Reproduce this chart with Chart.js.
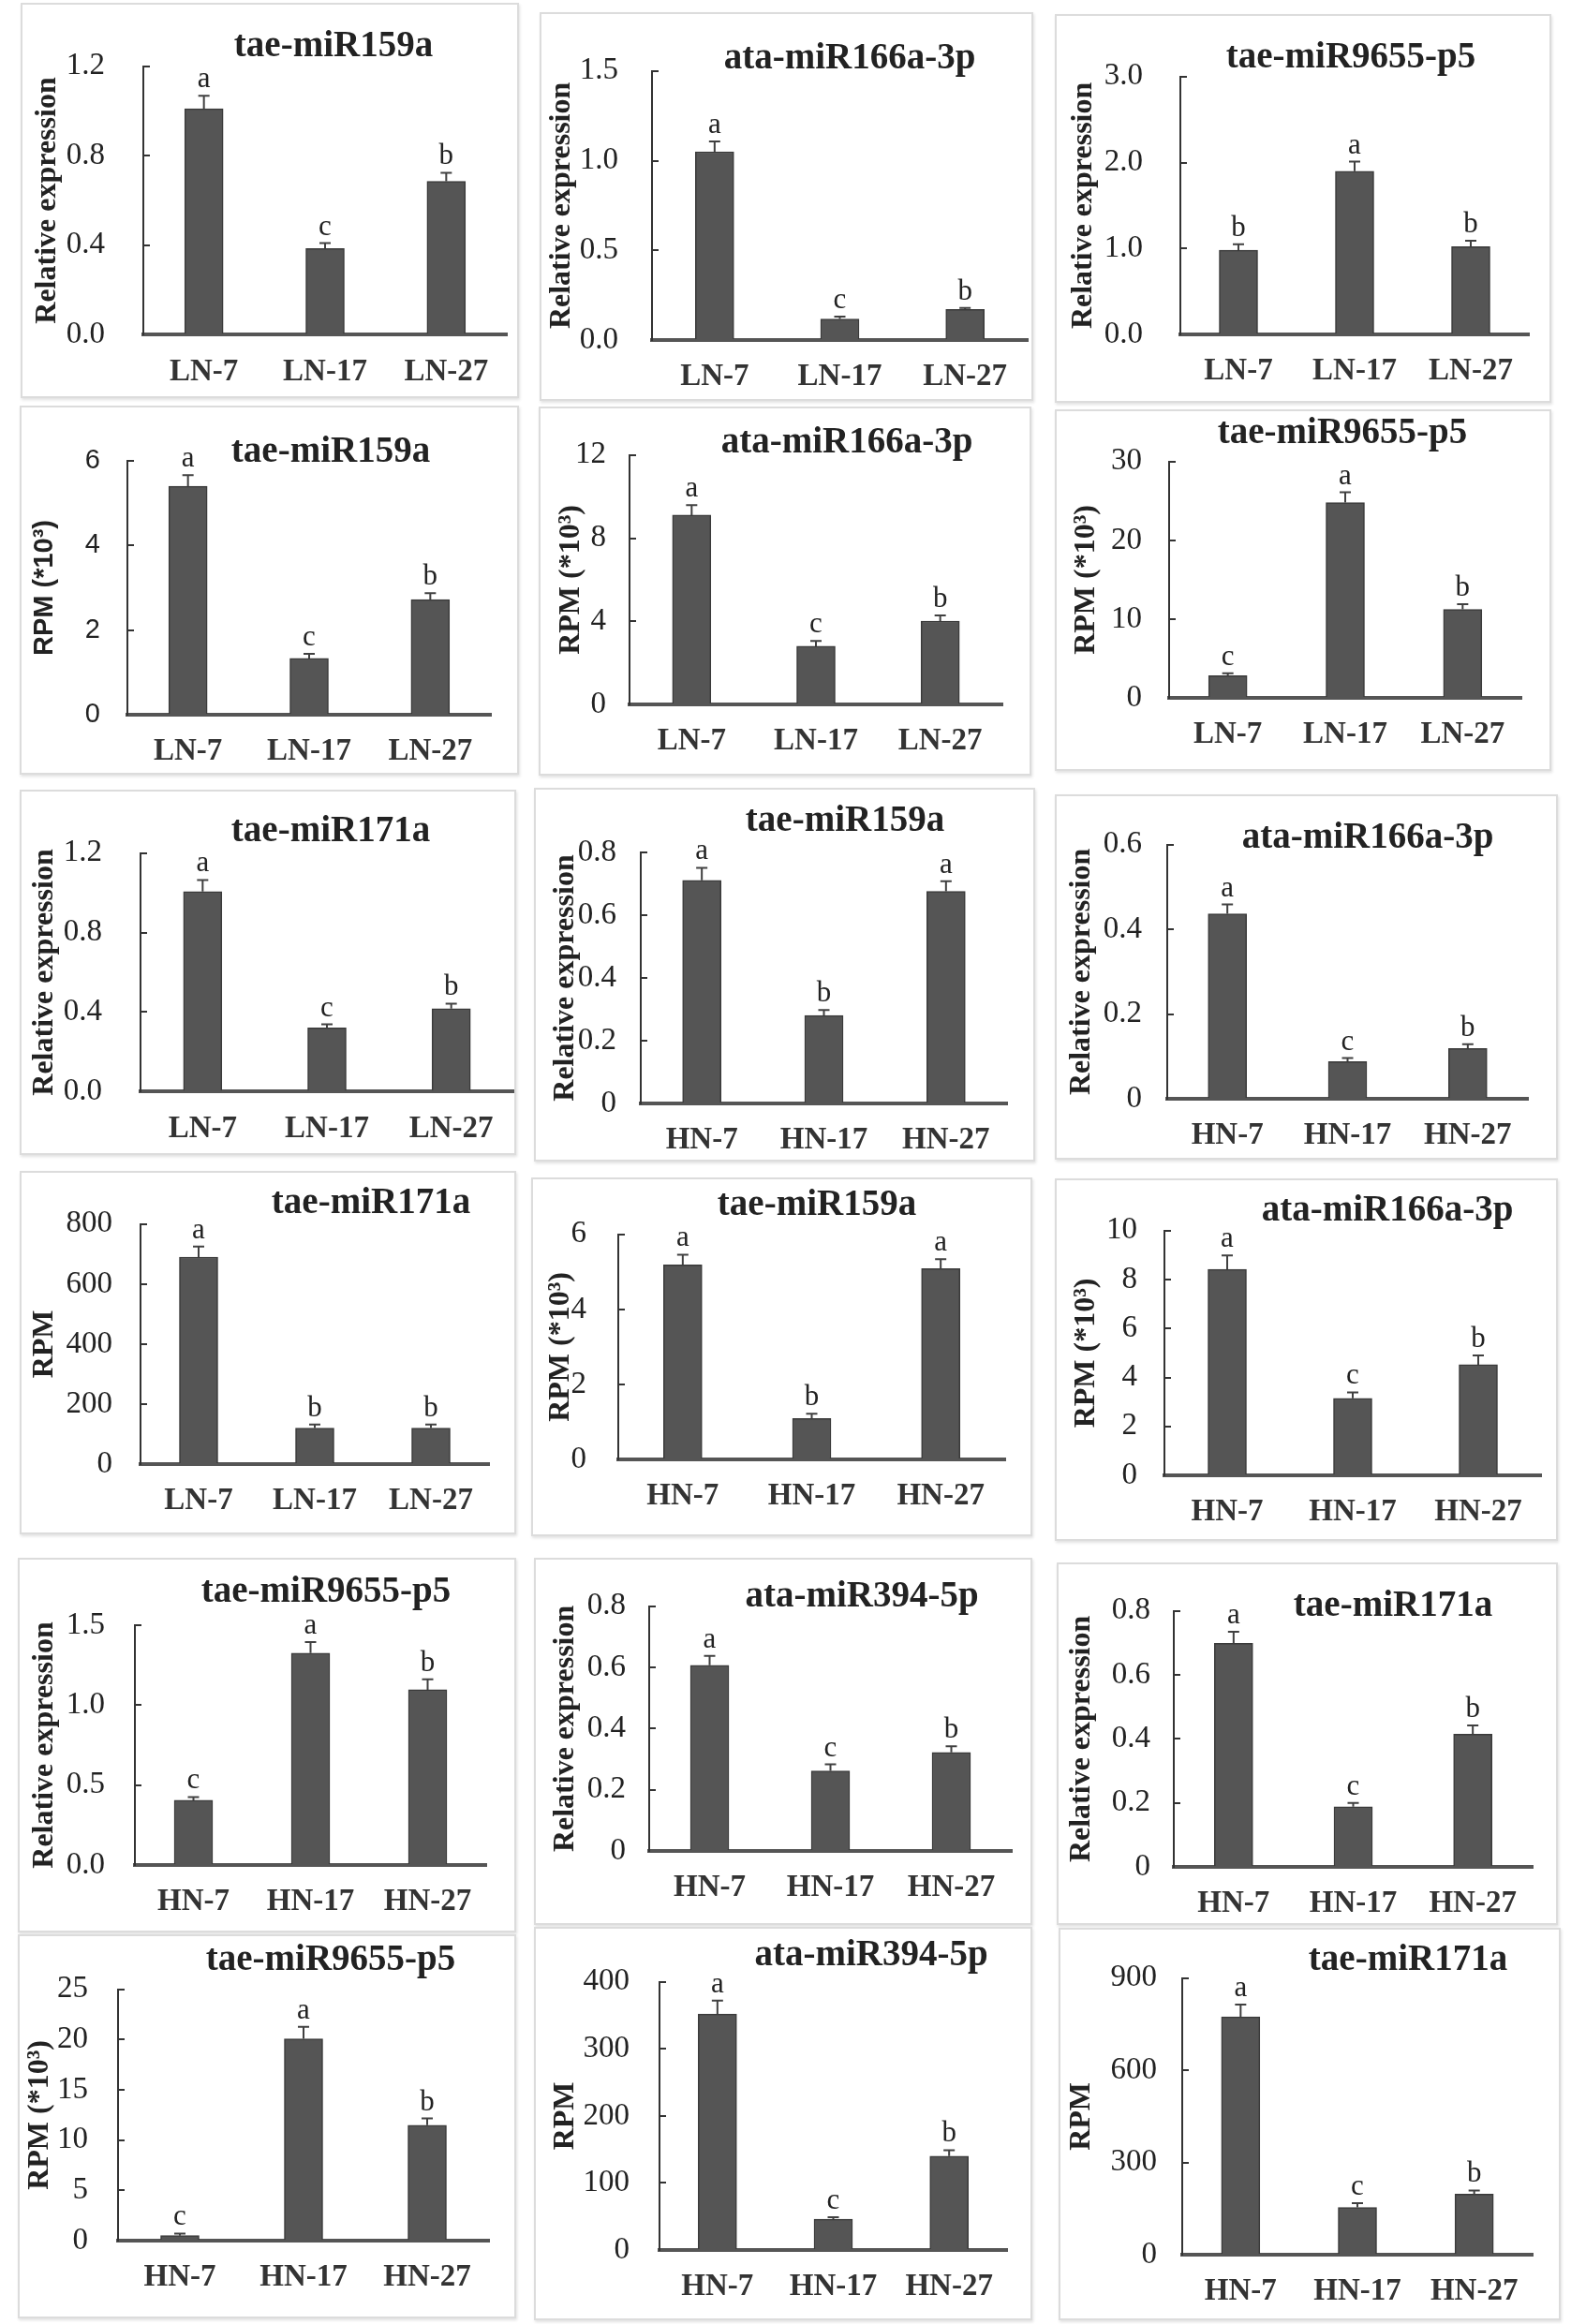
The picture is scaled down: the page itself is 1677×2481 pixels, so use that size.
<!DOCTYPE html>
<html>
<head>
<meta charset="utf-8">
<title>miRNA expression panels</title>
<script src="https://cdn.jsdelivr.net/npm/chart.js@4.4.1/dist/chart.umd.min.js"></script>
<style>
    html, body { margin: 0; padding: 0; background: #fff; }
    body { width: 1677px; height: 2481px; position: relative; overflow: hidden; }
    .panel {
        position: absolute;
        box-sizing: border-box;
        border: 2px solid #dcdcdc;
        box-shadow: 1px 2px 3px rgba(0, 0, 0, 0.12);
        background: #fff;
    }
    canvas { position: absolute; }
</style>
</head>
<body>
<script>
// 組別
const lnGroups = ['LN-7', 'LN-17', 'LN-27'];
const hnGroups = ['HN-7', 'HN-17', 'HN-27'];

// 軸標題
const relLabel = 'Relative expression';
const rpmKLabel = 'RPM (*10³)';
const rpmLabel = 'RPM';

// 1. tae-miR159a (qRT-PCR, LN)
const p1Values = [1.01, 0.385, 0.686];
const p1Errors = [0.058, 0.024, 0.038];
const p1Letters = ['a', 'c', 'b'];
const p1Ticks = [0, 0.4, 0.8, 1.2];
const p1TickLabels = ['0.0', '0.4', '0.8', '1.2'];

// 2. ata-miR166a-3p (qRT-PCR, LN)
const p2Values = [1.05, 0.117, 0.171];
const p2Errors = [0.057, 0.013, 0.008];
const p2Letters = ['a', 'c', 'b'];
const p2Ticks = [0, 0.5, 1.0, 1.5];
const p2TickLabels = ['0.0', '0.5', '1.0', '1.5'];

// 3. tae-miR9655-p5 (qRT-PCR, LN)
const p3Values = [0.98, 1.90, 1.02];
const p3Errors = [0.07, 0.11, 0.07];
const p3Letters = ['b', 'a', 'b'];
const p3Ticks = [0, 1, 2, 3];
const p3TickLabels = ['0.0', '1.0', '2.0', '3.0'];

// 4. tae-miR159a (RPM, LN)
const p4Values = [5.40, 1.33, 2.72];
const p4Errors = [0.26, 0.11, 0.15];
const p4Letters = ['a', 'c', 'b'];
const p4Ticks = [0, 2, 4, 6];
const p4TickLabels = ['0', '2', '4', '6'];

// 5. ata-miR166a-3p (RPM, LN)
const p5Values = [9.11, 2.80, 4.01];
const p5Errors = [0.48, 0.25, 0.27];
const p5Letters = ['a', 'c', 'b'];
const p5Ticks = [0, 4, 8, 12];
const p5TickLabels = ['0', '4', '8', '12'];

// 6. tae-miR9655-p5 (RPM, LN)
const p6Values = [2.82, 24.8, 11.23];
const p6Errors = [0.3, 1.3, 0.66];
const p6Letters = ['c', 'a', 'b'];
const p6Ticks = [0, 10, 20, 30];
const p6TickLabels = ['0', '10', '20', '30'];

// 7. tae-miR171a (qRT-PCR, LN)
const p7Values = [1.007, 0.32, 0.417];
const p7Errors = [0.058, 0.018, 0.025];
const p7Letters = ['a', 'c', 'b'];
const p7Ticks = [0, 0.4, 0.8, 1.2];
const p7TickLabels = ['0.0', '0.4', '0.8', '1.2'];

// 8. tae-miR159a (qRT-PCR, HN)
const p8Values = [0.711, 0.28, 0.676];
const p8Errors = [0.04, 0.018, 0.032];
const p8Letters = ['a', 'b', 'a'];
const p8Ticks = [0, 0.2, 0.4, 0.6, 0.8];
const p8TickLabels = ['0', '0.2', '0.4', '0.6', '0.8'];

// 9. ata-miR166a-3p (qRT-PCR, HN)
const p9Values = [0.437, 0.088, 0.119];
const p9Errors = [0.022, 0.008, 0.01];
const p9Letters = ['a', 'c', 'b'];
const p9Ticks = [0, 0.2, 0.4, 0.6];
const p9TickLabels = ['0', '0.2', '0.4', '0.6'];

// 10. tae-miR171a (RPM, LN)
const p10Values = [690, 120, 120];
const p10Errors = [35, 12, 12];
const p10Letters = ['a', 'b', 'b'];
const p10Ticks = [0, 200, 400, 600, 800];
const p10TickLabels = ['0', '200', '400', '600', '800'];

// 11. tae-miR159a (RPM, HN)
const p11Values = [5.19, 1.09, 5.09];
const p11Errors = [0.27, 0.13, 0.25];
const p11Letters = ['a', 'b', 'a'];
const p11Ticks = [0, 2, 4, 6];
const p11TickLabels = ['0', '2', '4', '6'];

// 12. ata-miR166a-3p (RPM, HN)
const p12Values = [8.42, 3.15, 4.52];
const p12Errors = [0.57, 0.24, 0.38];
const p12Letters = ['a', 'c', 'b'];
const p12Ticks = [0, 2, 4, 6, 8, 10];
const p12TickLabels = ['0', '2', '4', '6', '8', '10'];

// 13. tae-miR9655-p5 (qRT-PCR, HN)
const p13Values = [0.405, 1.325, 1.096];
const p13Errors = [0.02, 0.07, 0.066];
const p13Letters = ['c', 'a', 'b'];
const p13Ticks = [0, 0.5, 1.0, 1.5];
const p13TickLabels = ['0.0', '0.5', '1.0', '1.5'];

// 14. ata-miR394-5p (qRT-PCR, HN)
const p14Values = [0.607, 0.262, 0.322];
const p14Errors = [0.031, 0.021, 0.02];
const p14Letters = ['a', 'c', 'b'];
const p14Ticks = [0, 0.2, 0.4, 0.6, 0.8];
const p14TickLabels = ['0', '0.2', '0.4', '0.6', '0.8'];

// 15. tae-miR171a (qRT-PCR, HN)
const p15Values = [0.699, 0.188, 0.415];
const p15Errors = [0.036, 0.012, 0.027];
const p15Letters = ['a', 'c', 'b'];
const p15Ticks = [0, 0.2, 0.4, 0.6, 0.8];
const p15TickLabels = ['0', '0.2', '0.4', '0.6', '0.8'];

// 16. tae-miR9655-p5 (RPM, HN)
const p16Values = [0.5, 20.08, 11.48];
const p16Errors = [0.2, 1.2, 0.68];
const p16Letters = ['c', 'a', 'b'];
const p16Ticks = [0, 5, 10, 15, 20, 25];
const p16TickLabels = ['0', '5', '10', '15', '20', '25'];

// 17. ata-miR394-5p (RPM, HN)
const p17Values = [352, 46, 140];
const p17Errors = [20, 3, 9];
const p17Letters = ['a', 'c', 'b'];
const p17Ticks = [0, 100, 200, 300, 400];
const p17TickLabels = ['0', '100', '200', '300', '400'];

// 18. tae-miR171a (RPM, HN)
const p18Values = [774, 154, 197];
const p18Errors = [40, 14, 12];
const p18Letters = ['a', 'c', 'b'];
const p18Ticks = [0, 300, 600, 900];
const p18TickLabels = ['0', '300', '600', '900'];

const panels = [
    { title: 'tae-miR159a', yTitle: relLabel, groups: lnGroups, values: p1Values, errors: p1Errors, letters: p1Letters, ticks: p1Ticks, tickLabels: p1TickLabels },
    { title: 'ata-miR166a-3p', yTitle: relLabel, groups: lnGroups, values: p2Values, errors: p2Errors, letters: p2Letters, ticks: p2Ticks, tickLabels: p2TickLabels },
    { title: 'tae-miR9655-p5', yTitle: relLabel, groups: lnGroups, values: p3Values, errors: p3Errors, letters: p3Letters, ticks: p3Ticks, tickLabels: p3TickLabels },
    { title: 'tae-miR159a', yTitle: rpmKLabel, groups: lnGroups, values: p4Values, errors: p4Errors, letters: p4Letters, ticks: p4Ticks, tickLabels: p4TickLabels },
    { title: 'ata-miR166a-3p', yTitle: rpmKLabel, groups: lnGroups, values: p5Values, errors: p5Errors, letters: p5Letters, ticks: p5Ticks, tickLabels: p5TickLabels },
    { title: 'tae-miR9655-p5', yTitle: rpmKLabel, groups: lnGroups, values: p6Values, errors: p6Errors, letters: p6Letters, ticks: p6Ticks, tickLabels: p6TickLabels },
    { title: 'tae-miR171a', yTitle: relLabel, groups: lnGroups, values: p7Values, errors: p7Errors, letters: p7Letters, ticks: p7Ticks, tickLabels: p7TickLabels },
    { title: 'tae-miR159a', yTitle: relLabel, groups: hnGroups, values: p8Values, errors: p8Errors, letters: p8Letters, ticks: p8Ticks, tickLabels: p8TickLabels },
    { title: 'ata-miR166a-3p', yTitle: relLabel, groups: hnGroups, values: p9Values, errors: p9Errors, letters: p9Letters, ticks: p9Ticks, tickLabels: p9TickLabels },
    { title: 'tae-miR171a', yTitle: rpmLabel, groups: lnGroups, values: p10Values, errors: p10Errors, letters: p10Letters, ticks: p10Ticks, tickLabels: p10TickLabels },
    { title: 'tae-miR159a', yTitle: rpmKLabel, groups: hnGroups, values: p11Values, errors: p11Errors, letters: p11Letters, ticks: p11Ticks, tickLabels: p11TickLabels },
    { title: 'ata-miR166a-3p', yTitle: rpmKLabel, groups: hnGroups, values: p12Values, errors: p12Errors, letters: p12Letters, ticks: p12Ticks, tickLabels: p12TickLabels },
    { title: 'tae-miR9655-p5', yTitle: relLabel, groups: hnGroups, values: p13Values, errors: p13Errors, letters: p13Letters, ticks: p13Ticks, tickLabels: p13TickLabels },
    { title: 'ata-miR394-5p', yTitle: relLabel, groups: hnGroups, values: p14Values, errors: p14Errors, letters: p14Letters, ticks: p14Ticks, tickLabels: p14TickLabels },
    { title: 'tae-miR171a', yTitle: relLabel, groups: hnGroups, values: p15Values, errors: p15Errors, letters: p15Letters, ticks: p15Ticks, tickLabels: p15TickLabels },
    { title: 'tae-miR9655-p5', yTitle: rpmKLabel, groups: hnGroups, values: p16Values, errors: p16Errors, letters: p16Letters, ticks: p16Ticks, tickLabels: p16TickLabels },
    { title: 'ata-miR394-5p', yTitle: rpmLabel, groups: hnGroups, values: p17Values, errors: p17Errors, letters: p17Letters, ticks: p17Ticks, tickLabels: p17TickLabels },
    { title: 'tae-miR171a', yTitle: rpmLabel, groups: hnGroups, values: p18Values, errors: p18Errors, letters: p18Letters, ticks: p18Ticks, tickLabels: p18TickLabels }
];

// 版面：外框 [x, y, w, h]、繪圖區 [左, 右, 上, 零線]、標題中心、y 軸標題 x、刻度文字間距
const frames = [
    { box: [22, 3, 532, 422], plot: [153, 541, 67, 365], title: [356, 50], yTitleX: 51, gap: 41 },
    { box: [576, 13, 527, 415], plot: [696, 1097, 65, 363], title: [907, 63], yTitleX: 600, gap: 36 },
    { box: [1126, 15, 530, 415], plot: [1260, 1632, 70, 357], title: [1442, 62], yTitleX: 1157, gap: 40 },
    { box: [21, 433, 533, 394], plot: [136, 524, 492, 763], title: [353, 483], yTitleX: 48, gap: 29, sans: true },
    { box: [575, 434, 526, 394], plot: [672, 1070, 469, 752], title: [904, 473], yTitleX: 610, gap: 25 },
    { box: [1126, 437, 530, 386], plot: [1248, 1624, 472, 745], title: [1433, 463], yTitleX: 1160, gap: 29 },
    { box: [21, 843, 530, 390], plot: [150, 548, 885, 1175], title: [353, 888], yTitleX: 48, gap: 41 },
    { box: [570, 841, 535, 399], plot: [684, 1075, 910, 1178], title: [902, 877], yTitleX: 604, gap: 26 },
    { box: [1126, 848, 537, 390], plot: [1246, 1631, 888, 1173], title: [1460, 895], yTitleX: 1155, gap: 27 },
    { box: [21, 1250, 530, 388], plot: [150, 522, 1267, 1563], title: [396, 1285], yTitleX: 48, gap: 30 },
    { box: [567, 1257, 535, 383], plot: [660, 1073, 1300, 1558], title: [872, 1287], yTitleX: 599, gap: 34 },
    { box: [1126, 1258, 537, 387], plot: [1243, 1645, 1295, 1575], title: [1481, 1293], yTitleX: 1160, gap: 29 },
    { box: [19, 1663, 532, 400], plot: [144, 519, 1735, 1991], title: [348, 1700], yTitleX: 48, gap: 32 },
    { box: [570, 1663, 532, 392], plot: [693, 1080, 1683, 1976], title: [920, 1705], yTitleX: 604, gap: 25 },
    { box: [1128, 1668, 535, 387], plot: [1253, 1636, 1717, 1993], title: [1487, 1715], yTitleX: 1155, gap: 25 },
    { box: [19, 2065, 532, 410], plot: [126, 522, 2087, 2392], title: [353, 2093], yTitleX: 43, gap: 32 },
    { box: [570, 2057, 532, 420], plot: [704, 1075, 2075, 2402], title: [930, 2088], yTitleX: 604, gap: 32 },
    { box: [1130, 2058, 536, 419], plot: [1262, 1636, 2082, 2407], title: [1503, 2093], yTitleX: 1155, gap: 27 }
];

const SERIF = '"Liberation Serif", "Times New Roman", serif';
const SANS = '"Liberation Sans", Arial, sans-serif';
const BAR_COLOR = '#555555';
const TEXT_COLOR = '#222222';

Chart.defaults.font.family = SERIF;
Chart.defaults.color = TEXT_COLOR;

// 誤差線與顯著性字母
const errorBarPlugin = {
    id: 'errorBars',
    afterDatasetsDraw(chart, args, opts) {
        const { ctx, scales: { y } } = chart;
        const values = chart.data.datasets[0].data;
        const bars = chart.getDatasetMeta(0).data;
        ctx.save();
        ctx.strokeStyle = '#404040';
        ctx.lineWidth = 2;
        ctx.fillStyle = TEXT_COLOR;
        ctx.font = '31px ' + SERIF;
        ctx.textAlign = 'center';
        ctx.textBaseline = 'alphabetic';
        bars.forEach((bar, i) => {
            const base = y.getPixelForValue(values[i]);
            const top = y.getPixelForValue(values[i] + opts.errors[i]);
            ctx.beginPath();
            ctx.moveTo(bar.x, base);
            ctx.lineTo(bar.x, top);
            ctx.moveTo(bar.x - 6, top);
            ctx.lineTo(bar.x + 6, top);
            ctx.stroke();
            ctx.fillText(opts.letters[i], bar.x, top - 9);
        });
        ctx.restore();
    }
};

// 面板標題（位置不固定，所以自己畫）
const panelTitlePlugin = {
    id: 'panelTitle',
    afterDraw(chart, args, opts) {
        const { ctx } = chart;
        ctx.save();
        ctx.fillStyle = TEXT_COLOR;
        ctx.font = 'bold 39px ' + SERIF;
        ctx.textAlign = 'center';
        ctx.textBaseline = 'middle';
        ctx.fillText(opts.text, opts.x, opts.y);
        ctx.restore();
    }
};

function drawPanel(panel, frame) {
    const [bx, by, bw, bh] = frame.box;
    const [pl, pr, pt, pb] = frame.plot;

    const border = document.createElement('div');
    border.className = 'panel';
    Object.assign(border.style, { left: bx + 'px', top: by + 'px', width: bw + 'px', height: bh + 'px' });
    document.body.appendChild(border);

    const canvas = document.createElement('canvas');
    canvas.width = bw;
    canvas.height = bh;
    Object.assign(canvas.style, { left: bx + 'px', top: by + 'px', width: bw + 'px', height: bh + 'px' });
    document.body.appendChild(canvas);

    const tickFont = frame.sans ? { family: SANS, size: 29 } : { family: SERIF, size: 33 };
    const yTitleFont = frame.sans
        ? { family: SANS, size: 29, weight: 'bold' }
        : { family: SERIF, size: 32, weight: 'bold' };
    const yTitlePad = (frame.yTitleX - bx) - yTitleFont.size * 1.2 / 2;

    return new Chart(canvas, {
        type: 'bar',
        data: {
            labels: panel.groups,
            datasets: [{
                data: panel.values,
                backgroundColor: BAR_COLOR,
                borderColor: '#3a3a3a',
                borderWidth: 1.5,
                barThickness: 41
            }]
        },
        options: {
            responsive: false,
            animation: false,
            layout: {
                padding: { left: 0, top: pt - by, right: bx + bw - pr, bottom: 0 }
            },
            plugins: {
                legend: { display: false },
                tooltip: { enabled: false },
                errorBars: { errors: panel.errors, letters: panel.letters },
                panelTitle: { text: panel.title, x: frame.title[0] - bx, y: frame.title[1] - by }
            },
            scales: {
                x: {
                    grid: { display: false, drawTicks: false },
                    border: { display: true, color: '#555', width: 4 },
                    ticks: { font: { family: SERIF, size: 33, weight: 'bold' }, color: '#333', padding: 20, maxRotation: 0 },
                    afterFit: scale => { scale.height = by + bh - pb; }
                },
                y: {
                    min: 0,
                    max: panel.ticks[panel.ticks.length - 1],
                    afterBuildTicks: scale => { scale.ticks = panel.ticks.map(v => ({ value: v })); },
                    ticks: {
                        font: tickFont,
                        padding: frame.gap + 7,
                        callback: (value, index) => panel.tickLabels[index]
                    },
                    grid: { drawOnChartArea: false, drawTicks: true, tickLength: -7, color: '#333', lineWidth: 2 },
                    border: { display: true, color: '#333', width: 2 },
                    title: {
                        display: true,
                        text: panel.yTitle,
                        font: yTitleFont,
                        padding: { top: yTitlePad, bottom: 0 }
                    },
                    afterFit: scale => { scale.width = pl - bx; }
                }
            }
        },
        plugins: [errorBarPlugin, panelTitlePlugin]
    });
}

panels.forEach((panel, i) => drawPanel(panel, frames[i]));
</script>
</body>
</html>
